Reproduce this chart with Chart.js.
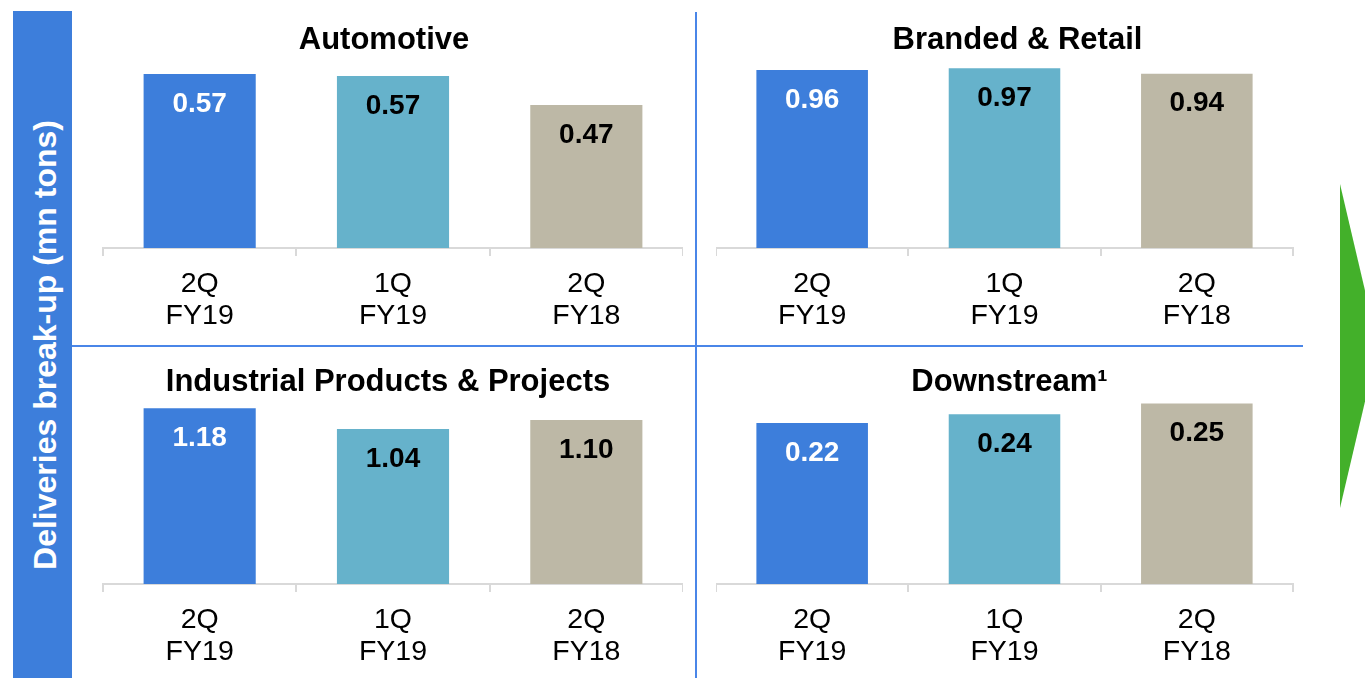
<!DOCTYPE html>
<html>
<head>
<meta charset="utf-8">
<script src="https://cdn.jsdelivr.net/npm/chart.js@4.4.1/dist/chart.umd.min.js"></script>
<style>
  html, body { margin: 0; padding: 0; background: #fff; overflow: hidden; }
  body { width: 1365px; height: 678px; position: relative; font-family: "Liberation Sans", Arial, sans-serif; }
  .band { position: absolute; left: 13px; top: 11px; width: 59px; height: 667px; background: #3d7edb; }
  .band-text {
    position: absolute; left: 45px; top: 345px; color: #fff; font-weight: bold; font-size: 32px;
    line-height: 1; white-space: nowrap; transform: translate(-50%, -50%) rotate(-90deg);
  }
  .vline { position: absolute; left: 695px; top: 12px; width: 2px; height: 666px; background: #4a86e8; }
  .hline { position: absolute; left: 72px; top: 345px; width: 1231px; height: 2px; background: #4a86e8; }
  canvas { position: absolute; }
  svg { position: absolute; left: 0; top: 0; }
</style>
</head>
<body>
<div class="band"></div>
<div class="band-text">Deliveries break-up (mn tons)</div>
<div class="vline"></div>
<div class="hline"></div>
<svg width="1365" height="678"><polygon points="1340,184 1378,346 1340,508" fill="#43b02a"/></svg>

<canvas id="c1"></canvas>
<canvas id="c2"></canvas>
<canvas id="c3"></canvas>
<canvas id="c4"></canvas>

<script>
// data
const categories = [['2Q', 'FY19'], ['1Q', 'FY19'], ['2Q', 'FY18']];
const automotive = [0.573, 0.566, 0.471];
const brandedRetail = [0.96, 0.97, 0.94];
const industrial = [1.18, 1.04, 1.10];
const downstream = [0.224, 0.236, 0.251];
const titles = ['Automotive', 'Branded & Retail', 'Industrial Products & Projects', 'Downstream¹'];
const barColors = ['#3d7edb', '#66b2cb', '#bdb8a6'];

Chart.defaults.font.family = '"Liberation Sans", Arial, sans-serif';
Chart.defaults.color = '#000';

// value labels inside the bars
const barLabels = {
  id: 'barLabels',
  afterDatasetsDraw(chart) {
    const ctx = chart.ctx;
    const meta = chart.getDatasetMeta(0);
    ctx.save();
    ctx.font = 'bold 28px "Liberation Sans", Arial, sans-serif';
    ctx.textAlign = 'center';
    ctx.textBaseline = 'middle';
    meta.data.forEach((bar, i) => {
      ctx.fillStyle = i === 0 ? '#fff' : '#000';
      ctx.fillText(chart.data.datasets[0].data[i].toFixed(2), bar.x, bar.y + 30);
    });
    ctx.restore();
  }
};

// box: left/top of the plot, plot width, title shift (titles are not centred on the axis)
function makeChart(id, title, values, yMax, box) {
  const canvas = document.getElementById(id);
  const pad = Math.abs(box.shift) * 2;
  canvas.width = box.width + pad;
  canvas.height = 344;
  canvas.style.left = (box.shift < 0 ? box.left - pad : box.left) + 'px';
  canvas.style.top = box.top + 'px';

  return new Chart(canvas.getContext('2d'), {
    type: 'bar',
    data: {
      labels: categories,
      datasets: [{
        data: values,
        backgroundColor: barColors,
        barPercentage: 0.58,
        categoryPercentage: 1
      }]
    },
    options: {
      responsive: false,
      animation: false,
      layout: { padding: 0 },
      plugins: {
        legend: { display: false },
        tooltip: { enabled: false },
        title: {
          display: true,
          text: title,
          color: '#000',
          font: { size: 31, weight: 'bold', lineHeight: 1.2 },
          padding: { top: box.titleTop, bottom: 0 }
        }
      },
      scales: {
        x: {
          offset: true,
          grid: { offset: true, drawOnChartArea: false, drawTicks: true, tickLength: 8, color: '#d9d9d9', lineWidth: 2 },
          border: { color: '#d9d9d9', width: 2 },
          ticks: { color: '#000', padding: 12, maxRotation: 0, font: { size: 28.5, lineHeight: 32 / 28.5 } }
        },
        y: {
          display: pad > 0,
          position: box.shift < 0 ? 'left' : 'right',
          min: 0,
          max: yMax,
          grid: { display: false },
          border: { display: false },
          ticks: { display: false },
          afterFit: scale => { scale.width = pad; }
        }
      }
    },
    plugins: [barLabels]
  });
}

makeChart('c1', titles[0], automotive, 0.6217, { left: 103, top: 0, width: 580, shift: -9, titleTop: 22 });
makeChart('c2', titles[1], brandedRetail, 1.0183, { left: 716, top: 0, width: 577, shift: 13, titleTop: 22 });
makeChart('c3', titles[2], industrial, 1.2268, { left: 103, top: 336, width: 580, shift: -5, titleTop: 28 });
makeChart('c4', titles[3], downstream, 0.2543, { left: 716, top: 336, width: 577, shift: 5, titleTop: 28 });
</script>
</body>
</html>
